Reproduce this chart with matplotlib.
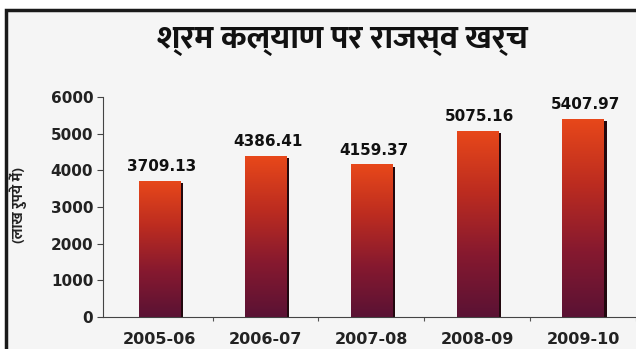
import numpy as np
import matplotlib
matplotlib.use("Agg")
import matplotlib.pyplot as plt
from matplotlib import font_manager
from matplotlib.colors import LinearSegmentedColormap
from matplotlib.patches import Rectangle

# data
years = ['2005-06', '2006-07', '2007-08', '2008-09', '2009-10']
spend = [3709.13, 4386.41, 4159.37, 5075.16, 5407.97]
title = 'श्रम कल्याण पर राजस्व खर्च'
ylabel = '(लाख रुपये में)'


def weight_of(f):
    wt = f.weight
    if isinstance(wt, str):
        wt = font_manager.weight_dict.get(wt, 400)
    return wt


# pick an installed Devanagari font, preferring one with a bold face
prefs = ['Noto Sans Devanagari', 'Mukta', 'Hind', 'Yantramanav', 'Poppins',
         'Tiro Devanagari Hindi', 'Unifont']
fonts = font_manager.fontManager.ttflist
bold_ok = [n for n in prefs if any(f.name == n and weight_of(f) >= 700 for f in fonts)]
any_ok = [n for n in prefs if any(f.name == n for f in fonts)]
deva = (bold_ok or any_ok)[:1]
hindi_family = deva + ['DejaVu Sans']

fig = plt.figure(figsize=(6.36, 3.49), dpi=100)
fig.patch.set_facecolor('white')

# black frame round the picture
frame = Rectangle((6 / 636, -0.1), 1.1, 1 - 10 / 349 + 0.1, transform=fig.transFigure,
                  facecolor='#f5f5f5', edgecolor='#1a1a1a', linewidth=2.5, zorder=-5)
fig.patches.append(frame)

ax = fig.add_axes([103 / 636, 32 / 349, 533 / 636, 220 / 349])
ax.set_facecolor('none')

x = np.arange(len(years))
w = 0.39
sw = 0.035
cmap = LinearSegmentedColormap.from_list('bar', ['#5a1234', '#86192f', '#bc2c20', '#e8481a'])
grad = np.linspace(0, 1, 256).reshape(-1, 1)

for xi, h in zip(x, spend):
    # dark side shadow
    ax.add_patch(Rectangle((xi + w / 2 - 0.005, 0), sw, h - 60, facecolor='#22080e',
                           edgecolor='none', zorder=2))
    bar = Rectangle((xi - w / 2, 0), w, h, facecolor='none', edgecolor='none', zorder=3)
    ax.add_patch(bar)
    im = ax.imshow(grad, cmap=cmap, aspect='auto', origin='lower',
                   extent=(xi - w / 2, xi + w / 2, 0, h), zorder=3)
    im.set_clip_path(bar)
    ax.annotate(f'{h:.2f}', (xi + 0.02, h), xytext=(0, 5), textcoords='offset points',
                ha='center', va='bottom', fontsize=11, fontweight='bold', color='#111111')

ax.set_xlim(-0.535, 4.47)
ax.set_ylim(0, 6000)

ax.spines['top'].set_visible(False)
ax.spines['right'].set_visible(False)
ax.spines['left'].set_color('#444444')
ax.spines['bottom'].set_color('#444444')
ax.spines['left'].set_bounds(0, 6000)

ax.set_yticks(range(0, 6001, 1000))
ax.tick_params(axis='y', length=4, color='#444444', labelsize=11, pad=3, labelcolor='#222222')
ax.set_xticks(x + 0.5, minor=False)
ax.set_xticklabels([])
ax.set_xticks(x, minor=True)
ax.set_xticklabels(years, minor=True)
ax.tick_params(axis='x', which='major', length=3, direction='out', color='#555555')
ax.tick_params(axis='x', which='minor', length=0, pad=11, labelsize=11.5, labelcolor='#222222')
for lab in ax.get_yticklabels() + ax.get_xticklabels(minor=True):
    lab.set_fontweight('bold')

fig.text(342 / 636, 1 - 41 / 349, title, ha='center', va='center', fontsize=24,
         fontweight='bold', family=hindi_family, color='#111111')
fig.text(18 / 636, 1 - 205 / 349, ylabel, ha='center', va='center', rotation=90,
         fontsize=11, fontweight='bold', family=hindi_family, color='#222222')

fig.savefig('out.png', dpi=100)
